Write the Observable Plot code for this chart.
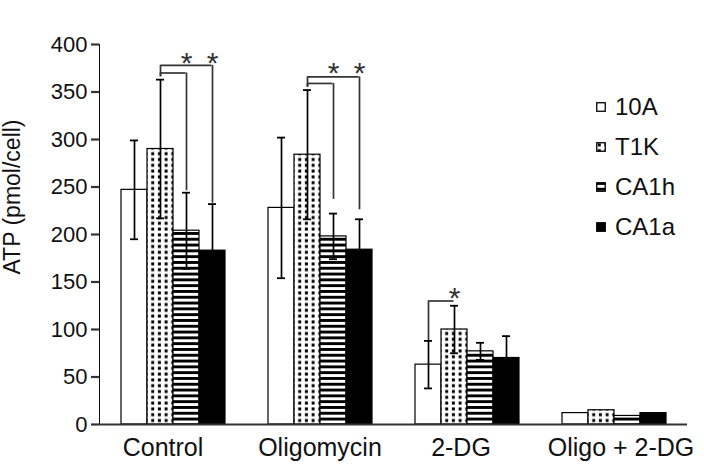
<!DOCTYPE html>
<html><head><meta charset="utf-8">
<script src="https://cdn.jsdelivr.net/npm/d3@7"></script>
<script src="https://cdn.jsdelivr.net/npm/@observablehq/plot@0.6"></script>
<style>
body{margin:0;background:#fff;}
#wrap{position:relative;width:704px;height:474px;font-family:"Liberation Sans",Arial,sans-serif;color:#111;}
#ytitle{position:absolute;left:12px;top:197px;transform:translate(-50%,-50%) rotate(-90deg);font-size:23px;line-height:1;white-space:nowrap;}
#legend{position:absolute;left:596px;top:87px;}
.row{display:flex;align-items:center;height:40px;font-size:24px;}
.row svg{margin-right:9px;}
</style></head>
<body>
<div id="wrap">
<svg width="0" height="0" style="position:absolute;left:0;top:0"><defs>
<pattern id="pDots" patternUnits="userSpaceOnUse" width="6.7" height="5.8"><rect width="6.7" height="5.8" fill="#fff"/><rect x="1.8" y="1.4" width="3" height="3" fill="#000"/></pattern>
<pattern id="pStripes" patternUnits="userSpaceOnUse" width="8" height="5.8"><rect width="8" height="5.8" fill="#fff"/><rect y="0" width="8" height="2.9" fill="#000"/></pattern>
</defs></svg>
<div id="ytitle">ATP (pmol/cell)</div>
<div id="legend"></div>
</div>
<script>
// ---- data ----
const categories = ["Control", "Oligomycin", "2-DG", "Oligo + 2-DG"];
const seriesNames = ["10A", "T1K", "CA1h", "CA1a"];
const values10A  = [247, 228, 63, 12];
const valuesT1K  = [290, 284, 100, 15];
const valuesCA1h = [204, 198, 77, 9];
const valuesCA1a = [183, 184, 70, 12];
const err10A  = [52, 74, 25, 0];
const errT1K  = [73, 68, 25, 0];
const errCA1h = [40, 24, 9, 0];
const errCA1a = [49, 32, 23, 0];
const yTicks = [0, 50, 100, 150, 200, 250, 300, 350, 400];

// significance brackets
const bracketCond  = ["Control", "Control", "Oligomycin", "Oligomycin", "2-DG"];
const bracketFrom  = ["T1K", "T1K", "T1K", "T1K", "10A"];
const bracketTo    = ["CA1h", "CA1a", "CA1h", "CA1a", "T1K"];
const bracketLevel = [370, 378, 359, 366, 130];
const bracketFromEnd = [366, 366, 355, 355, 88];
const bracketToEnd   = [246, 233, 237, 226, 130];
const starLevel    = [388, 388, 377, 377, 140];

// ---- styles ----
const seriesFills = ["#fff", "url(#pDots)", "url(#pStripes)", "#000"];
const labelShift = [-10, 0, -6, 7];

const seriesValues = [values10A, valuesT1K, valuesCA1h, valuesCA1a];
const seriesErrors = [err10A, errT1K, errCA1h, errCA1a];
const rows = [];
categories.forEach((c, j) => seriesNames.forEach((s, i) => rows.push({
  cond: c, series: s, value: seriesValues[i][j], err: seriesErrors[i][j], fill: seriesFills[i]
})));
const errRows = rows.filter(d => d.err > 0);
const brackets = bracketCond.map((c, k) => ({
  cond: c, from: bracketFrom[k], to: bracketTo[k], level: bracketLevel[k],
  fromEnd: bracketFromEnd[k], toEnd: bracketToEnd[k], star: starLevel[k]
}));

const W = 704, H = 474, mL = 97, mR = 16, mT = 44, mB = 50;
const padOuter = 0.74;
const bw = (W - mL - mR) / categories.length / (seriesNames.length + 2 * padOuter);
const capInset = (bw - 9) / 2;

const chart = Plot.plot({
  width: W, height: H,
  marginLeft: mL, marginRight: mR, marginTop: mT, marginBottom: mB,
  style: {fontFamily: '"Liberation Sans", Arial, sans-serif', fontSize: "22px", color: "#111", background: "#fff"},
  fx: {domain: categories, padding: 0, label: null, axis: null},
  x: {domain: seriesNames, paddingInner: 0, paddingOuter: padOuter, axis: null},
  y: {domain: [0, 400], ticks: yTicks, tickSize: 8, tickPadding: 4, line: true, label: null},
  color: {type: "identity"},
  marks: [
    ...categories.map((c, j) => Plot.text([c], {fx: d => d, text: d => d, frameAnchor: "bottom", lineAnchor: "middle", dy: 23, dx: labelShift[j], fontSize: 25, fill: "#111"})),
    Plot.barY(rows, {fx: "cond", x: "series", y: "value", fill: "fill", stroke: "#000", strokeWidth: 1.2}),
    Plot.ruleX(errRows, {fx: "cond", x: "series", y1: d => d.value - d.err, y2: d => d.value + d.err, stroke: "#000", strokeWidth: 1.7}),
    Plot.tickY(errRows, {fx: "cond", x: "series", y: d => d.value + d.err, insetLeft: capInset, insetRight: capInset, stroke: "#000", strokeWidth: 1.8}),
    Plot.tickY(errRows, {fx: "cond", x: "series", y: d => d.value - d.err, insetLeft: capInset, insetRight: capInset, stroke: "#000", strokeWidth: 1.8}),
    Plot.ruleY(brackets, {fx: "cond", x1: "from", x2: "to", y: "level", insetLeft: bw / 2, insetRight: bw / 2, stroke: "#333", strokeWidth: 1.7}),
    Plot.ruleX(brackets.filter(d => d.toEnd !== d.level), {fx: "cond", x: "to", y1: "toEnd", y2: "level", stroke: "#333", strokeWidth: 1.7}),
    Plot.ruleX(brackets, {fx: "cond", x: "from", y1: "fromEnd", y2: "level", stroke: "#333", strokeWidth: 1.7}),
    Plot.text(brackets, {fx: "cond", x: "to", y: "star", text: () => "*", fontSize: 30, dy: 7, fill: "#333"}),
    Plot.ruleY([0], {stroke: "#333", strokeWidth: 2.2})
  ]
});
d3.select(chart).selectAll('g[aria-label^="y-axis"] path, g[aria-label^="y-axis"] line')
  .attr("stroke-width", 2.2).attr("stroke", "#333");
document.getElementById("wrap").prepend(chart);

// legend
const legend = d3.select("#legend");
seriesNames.forEach((s, i) => {
  const row = legend.append("div").attr("class", "row");
  const sw = row.append("svg").attr("width", 10).attr("height", 10);
  sw.append("rect").attr("x", 0.75).attr("y", 0.75).attr("width", 8.5).attr("height", 8.5)
    .attr("fill", seriesFills[i]).attr("stroke", "#000").attr("stroke-width", 1.3);
  row.append("span").text(s);
});
</script>
</body></html>
